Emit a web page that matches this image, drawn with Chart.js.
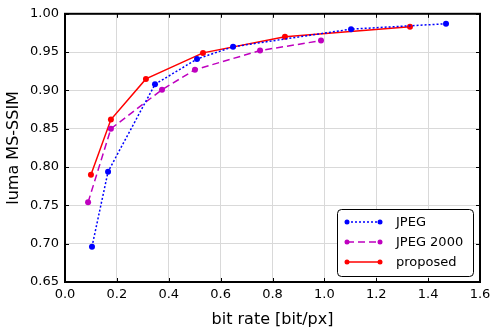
<!DOCTYPE html>
<html>
<head>
<meta charset="utf-8">
<script src="https://cdn.jsdelivr.net/npm/chart.js@4"></script>
<style>
  html, body { margin: 0; padding: 0; background: #fff; }
  #wrap { width: 500px; height: 333px; }
</style>
</head>
<body>
<div id="wrap"><canvas id="chart" width="500" height="333"></canvas></div>
<script>
// bit rate [bit/px] and luma MS-SSIM for each codec
const jpegRate = [0.104, 0.166, 0.347, 0.509, 0.648, 1.103, 1.469];
const jpegSsim = [0.696, 0.794, 0.908, 0.941, 0.957, 0.980, 0.987];

const j2kRate = [0.089, 0.177, 0.374, 0.501, 0.752, 0.987];
const j2kSsim = [0.754, 0.850, 0.901, 0.927, 0.952, 0.965];

const propRate = [0.100, 0.177, 0.312, 0.532, 0.848, 1.330];
const propSsim = [0.790, 0.862, 0.915, 0.949, 0.970, 0.983];

const seriesNames = ["JPEG", "JPEG 2000", "proposed"];
const seriesColors = ["#0000ff", "#bf00bf", "#ff0000"];
const seriesDash = [[2, 2], [7, 4], []];

const toPoints = (xs, ys) => xs.map((x, i) => ({ x: x, y: ys[i] }));
const pointSets = [
  toPoints(jpegRate, jpegSsim),
  toPoints(j2kRate, j2kSsim),
  toPoints(propRate, propSsim),
];

const FONT = "'DejaVu Sans', sans-serif";

// frame + inward ticks like matplotlib
const framePlugin = {
  id: "frame",
  afterDatasetsDraw(chart) {
    const { ctx, chartArea: a, scales } = chart;
    ctx.save();
    ctx.strokeStyle = "#000";
    ctx.lineWidth = 1;
    ctx.beginPath();
    scales.x.ticks.forEach((t) => {
      const px = Math.round(scales.x.getPixelForValue(t.value)) + 0.5;
      ctx.moveTo(px, a.bottom); ctx.lineTo(px, a.bottom - 4);
      ctx.moveTo(px, a.top); ctx.lineTo(px, a.top + 4);
    });
    scales.y.ticks.forEach((t) => {
      const py = Math.round(scales.y.getPixelForValue(t.value)) + 0.5;
      ctx.moveTo(a.left, py); ctx.lineTo(a.left + 4, py);
      ctx.moveTo(a.right, py); ctx.lineTo(a.right - 4, py);
    });
    ctx.stroke();
    ctx.lineWidth = 2;
    ctx.strokeRect(a.left, a.top, a.right - a.left, a.bottom - a.top);
    ctx.restore();
  },
};

// legend box in the lower right of the plot
const legendPlugin = {
  id: "boxLegend",
  afterDraw(chart) {
    const { ctx, chartArea: a } = chart;
    const w = 136, h = 67;
    const x0 = a.right - 7 - w, y0 = a.bottom - 6 - h;
    ctx.save();
    ctx.beginPath();
    ctx.roundRect(x0 + 0.5, y0 + 0.5, w, h, 4);
    ctx.fillStyle = "#fff";
    ctx.fill();
    ctx.strokeStyle = "#000";
    ctx.lineWidth = 1;
    ctx.stroke();
    ctx.font = "13px " + FONT;
    ctx.textBaseline = "middle";
    seriesNames.forEach((name, i) => {
      const cy = y0 + 13 + i * 20;
      const lx1 = x0 + 10, lx2 = x0 + 43;
      ctx.strokeStyle = seriesColors[i];
      ctx.lineWidth = 1.5;
      ctx.setLineDash(seriesDash[i]);
      ctx.beginPath();
      ctx.moveTo(lx1, cy); ctx.lineTo(lx2, cy);
      ctx.stroke();
      ctx.setLineDash([]);
      ctx.fillStyle = seriesColors[i];
      [lx1, lx2].forEach((px) => {
        ctx.beginPath();
        ctx.arc(px, cy, 2.5, 0, Math.PI * 2);
        ctx.fill();
      });
      ctx.fillStyle = "#000";
      ctx.fillText(name, x0 + 59, cy + 1);
    });
    ctx.restore();
  },
};

new Chart(document.getElementById("chart"), {
  type: "scatter",
  data: {
    datasets: seriesNames.map((name, i) => ({
      label: name,
      data: pointSets[i],
      showLine: true,
      borderColor: seriesColors[i],
      backgroundColor: seriesColors[i],
      borderWidth: 1.5,
      borderDash: seriesDash[i],
      pointRadius: 3,
      pointBorderWidth: 0,
      tension: 0,
    })),
  },
  options: {
    responsive: false,
    animation: false,
    layout: { padding: { left: 0, right: 20, top: 13, bottom: 0 } },
    plugins: {
      legend: { display: false },
      tooltip: { enabled: false },
    },
    scales: {
      x: {
        type: "linear",
        min: 0,
        max: 1.6,
        ticks: {
          stepSize: 0.2,
          color: "#000",
          font: { family: FONT, size: 13 },
          padding: 5,
          maxRotation: 0,
          callback: (v) => Number(v).toFixed(1),
        },
        grid: { color: "#d9d9d9", drawTicks: false },
        border: { display: false },
        title: {
          display: true,
          text: "bit rate [bit/px]",
          color: "#000",
          font: { family: FONT, size: 16 },
          padding: { top: 2 },
        },
        afterFit: (s) => { s.height = 51; },
      },
      y: {
        type: "linear",
        min: 0.65,
        max: 1.0,
        ticks: {
          stepSize: 0.05,
          color: "#000",
          font: { family: FONT, size: 13 },
          padding: 6,
          callback: (v) => Number(v).toFixed(2),
        },
        grid: { color: "#d9d9d9", drawTicks: false },
        border: { display: false },
        title: {
          display: true,
          text: "luma MS-SSIM",
          color: "#000",
          font: { family: FONT, size: 16 },
          padding: { bottom: 4 },
        },
        afterFit: (s) => { s.width = 65; },
      },
    },
  },
  plugins: [framePlugin, legendPlugin],
});
</script>
</body>
</html>
